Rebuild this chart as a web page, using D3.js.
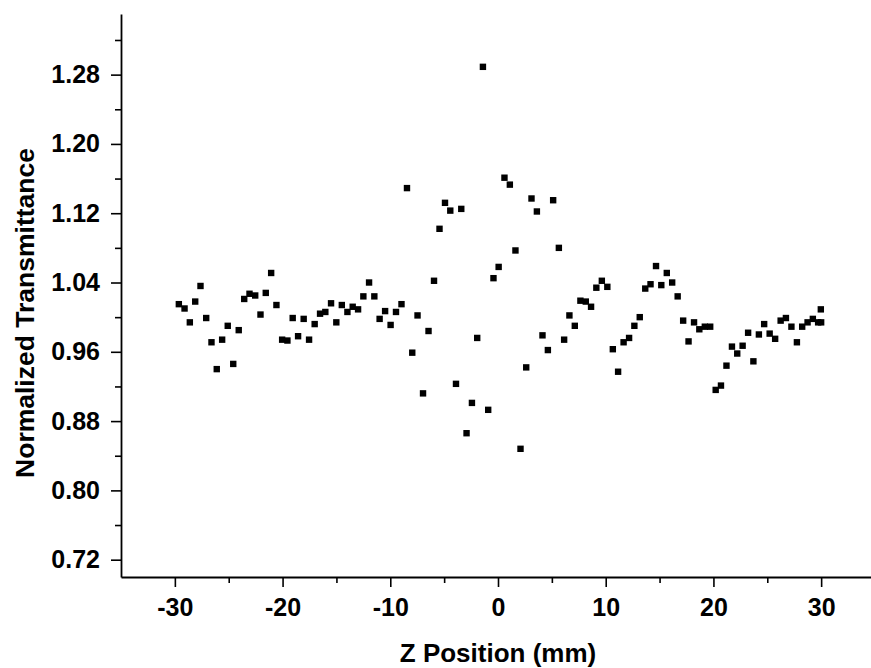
<!DOCTYPE html>
<html>
<head>
<meta charset="utf-8">
<script src="https://cdn.jsdelivr.net/npm/d3@7"></script>
<style>
  body { margin: 0; background: #fff; }
  text { font-family: "Liberation Sans", Arial, sans-serif; font-weight: bold; fill: #000; }
</style>
</head>
<body>
<div id="chart"></div>
<script>
// Z positions (mm)
var zPos = [-29.63, -29.10, -28.61, -28.11, -27.62, -27.09, -26.60, -26.11, -25.61, -25.09,
  -24.58, -24.07, -23.56, -23.07, -22.54, -22.05, -21.56, -21.06, -20.57, -20.04,
  -19.55, -19.06, -18.56, -18.04, -17.54, -17.02, -16.52, -16.03, -15.50, -15.01,
  -14.50, -13.98, -13.49, -12.99, -12.50, -11.97, -11.48, -10.99, -10.48, -9.97,
  -9.47, -8.96, -8.45, -7.96, -7.47, -6.96, -6.45, -5.94, -5.43, -4.92,
  -4.43, -3.90, -3.41, -2.92, -2.42, -1.93, -1.40, -0.91, -0.42, 0.06,
  0.60, 1.10, 1.62, 2.09, 2.62, 3.11, 3.61, 4.13, 4.63, 5.12,
  5.65, 6.14, 6.63, 7.13, 7.65, 8.15, 8.64, 9.13, 9.64, 10.15,
  10.66, 11.15, 11.66, 12.17, 12.66, 13.16, 13.67, 14.16, 14.67, 15.16,
  15.67, 16.17, 16.68, 17.19, 17.69, 18.20, 18.69, 19.20, 19.70, 20.21,
  20.70, 21.21, 21.72, 22.21, 22.71, 23.22, 23.71, 24.22, 24.71, 25.22,
  25.73, 26.24, 26.73, 27.24, 27.75, 28.24, 28.74, 29.23, 29.72, 29.97, 30.00];

// Normalized transmittance
var transmittance = [1.015, 1.010, 0.994, 1.018, 1.036, 0.999, 0.971, 0.940, 0.974, 0.990,
  0.946, 0.985, 1.021, 1.027, 1.025, 1.003, 1.028, 1.051, 1.014, 0.974,
  0.973, 0.999, 0.978, 0.998, 0.974, 0.992, 1.004, 1.006, 1.016, 0.994,
  1.014, 1.006, 1.012, 1.009, 1.024, 1.040, 1.024, 0.998, 1.007, 0.991,
  1.006, 1.015, 1.149, 0.959, 1.002, 0.912, 0.984, 1.042, 1.102, 1.132,
  1.123, 0.923, 1.125, 0.866, 0.901, 0.976, 1.289, 0.893, 1.045, 1.058,
  1.161, 1.153, 1.077, 0.848, 0.942, 1.137, 1.122, 0.979, 0.962, 1.135,
  1.080, 0.974, 1.002, 0.990, 1.019, 1.018, 1.012, 1.034, 1.042, 1.035,
  0.963, 0.937, 0.971, 0.976, 0.990, 1.000, 1.033, 1.038, 1.059, 1.037,
  1.051, 1.040, 1.024, 0.996, 0.972, 0.994, 0.986, 0.989, 0.989, 0.916,
  0.921, 0.944, 0.966, 0.958, 0.967, 0.982, 0.949, 0.980, 0.992, 0.981,
  0.975, 0.996, 0.999, 0.989, 0.971, 0.989, 0.994, 0.998, 0.994, 1.009, 0.994];

var xTicks = [-30, -20, -10, 0, 10, 20, 30];
var xMinor = [-25, -15, -5, 5, 15, 25];
var yTicks = [0.72, 0.80, 0.88, 0.96, 1.04, 1.12, 1.20, 1.28];
var yMinor = [0.76, 0.84, 0.92, 1.00, 1.08, 1.16, 1.24, 1.32];

var svgWidth = 871;
var svgHeight = 668;
var margin = { top: 14, right: -4, bottom: 91, left: 121 };
var width = svgWidth - margin.left - margin.right;
var height = svgHeight - margin.top - margin.bottom;

var svg = d3.select("#chart")
  .append("svg")
  .attr("width", svgWidth)
  .attr("height", svgHeight);

var chartGroup = svg.append("g")
  .attr("transform", `translate(${margin.left}, ${margin.top})`);

var x = d3.scaleLinear().domain([-35, 35]).range([0, width]);
var y = d3.scaleLinear().domain([0.70, 1.35]).range([height, 0]);

// minor ticks first
chartGroup.append("g")
  .attr("transform", `translate(0, ${height})`)
  .call(d3.axisBottom(x).tickValues(xMinor).tickSize(6).tickSizeOuter(0).tickFormat(""))
  .call(g => g.select(".domain").remove());

chartGroup.append("g")
  .call(d3.axisLeft(y).tickValues(yMinor).tickSize(6).tickSizeOuter(0).tickFormat(""))
  .call(g => g.select(".domain").remove());

// major axes
var xAxis = chartGroup.append("g")
  .attr("transform", `translate(0, ${height})`)
  .call(d3.axisBottom(x).tickValues(xTicks).tickSize(10).tickSizeOuter(0).tickPadding(11).tickFormat(d3.format("d")));

var yAxis = chartGroup.append("g")
  .call(d3.axisLeft(y).tickValues(yTicks).tickSize(10).tickSizeOuter(0).tickPadding(11).tickFormat(d3.format(".2f")));

chartGroup.selectAll(".tick line").attr("stroke", "#000").attr("stroke-width", 1.6);
chartGroup.selectAll(".domain").attr("stroke", "#000").attr("stroke-width", 1.8);
chartGroup.selectAll(".tick text")
  .attr("font-family", "Liberation Sans, Arial, sans-serif")
  .attr("font-weight", "bold")
  .attr("font-size", "25px")
  .attr("fill", "#000");
xAxis.selectAll(".tick text").text(d => d < 0 ? "-" + Math.abs(d) : d);

// points
var pts = zPos.map((z, i) => ({ z: z, t: transmittance[i] }));
chartGroup.selectAll("rect.pt")
  .data(pts)
  .enter()
  .append("rect")
  .attr("class", "pt")
  .attr("x", d => x(d.z) - 3.2)
  .attr("y", d => y(d.t) - 3.2)
  .attr("width", 6.4)
  .attr("height", 6.4)
  .attr("fill", "#000");

// axis labels
chartGroup.append("text")
  .attr("transform", "rotate(-90)")
  .attr("x", 0 - (313 - margin.top))
  .attr("y", 34 - margin.left)
  .attr("text-anchor", "middle")
  .attr("font-size", "26.5px")
  .text("Normalized Transmittance");

chartGroup.append("text")
  .attr("x", x(0))
  .attr("y", 662 - margin.top)
  .attr("text-anchor", "middle")
  .attr("font-size", "26px")
  .text("Z Position (mm)");
</script>
</body>
</html>
